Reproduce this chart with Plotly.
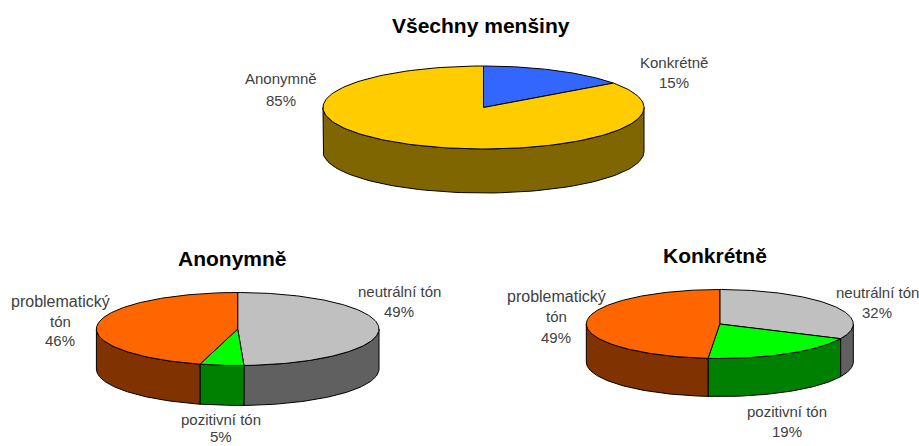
import numpy as np
import plotly.graph_objects as go

# --- data ---
all_labels = ["Konkrétně", "Anonymně"]
all_values = [15, 85]
anon_labels = ["neutrální tón", "pozitivní tón", "problematický tón"]
anon_values = [49.3, 5.0, 45.7]
conc_labels = ["neutrální tón", "pozitivní tón", "problematický tón"]
conc_values = [32, 19.4, 48.6]
titles = ["Všechny menšiny", "Anonymně", "Konkrétně"]

TOP = {"Konkrétně": "#3366FF", "Anonymně": "#FFCC00", "neutrální tón": "#C0C0C0",
       "pozitivní tón": "#00FF00", "problematický tón": "#FF6600"}
SIDE = {"Konkrétně": "#1A3380", "Anonymně": "#806600", "neutrální tón": "#606060",
        "pozitivní tón": "#008000", "problematický tón": "#803300"}


def pt(cx, cy, rx, ry, deg):
    a = np.radians(deg)
    return cx + rx * np.sin(a), cy - ry * np.cos(a)


def pie3d(fig, labels, values, cx, cy, rx, ry, depth):
    total = sum(values)
    start = 0.0
    slices = []
    for lab, v in zip(labels, values):
        end = start + 360.0 * v / total
        slices.append((lab, start, end))
        start = end
    # side walls (front half only, 90..270 deg clockwise from the top)
    for lab, a0, a1 in slices:
        lo, hi = max(a0, 90), min(a1, 270)
        if hi <= lo:
            continue
        t = np.linspace(lo, hi, 80)
        x, y = pt(cx, cy, rx, ry, t)
        xs = list(x) + list(x[::-1]) + [x[0]]
        ys = list(y) + list((y + depth)[::-1]) + [y[0]]
        fig.add_trace(go.Scatter(x=xs, y=ys, mode="lines", fill="toself", fillcolor=SIDE[lab],
                                 line=dict(color="black", width=1), name=lab, showlegend=False))
    # top faces
    for lab, a0, a1 in slices:
        t = np.linspace(a0, a1, 160)
        x, y = pt(cx, cy, rx, ry, t)
        xs = [cx] + list(x) + [cx]
        ys = [cy] + list(y) + [cy]
        fig.add_trace(go.Scatter(x=xs, y=ys, mode="lines", fill="toself", fillcolor=TOP[lab],
                                 line=dict(color="black", width=1), name=lab, showlegend=False))


fig = go.Figure()
pie3d(fig, all_labels, all_values, 483.5, 107.5, 160.5, 41.5, 44)
pie3d(fig, anon_labels, anon_values, 237.7, 329, 141.3, 36.5, 40)
pie3d(fig, conc_labels, conc_values, 719.8, 324, 133.5, 34.5, 38)


def text(lines, x, ys, size=15, bold=False, color="#404040"):
    for line, y in zip(lines, ys):
        fig.add_annotation(x=x, y=y, xref="x", yref="y", text=f"<b>{line}</b>" if bold else line,
                           showarrow=False, xanchor="center", yanchor="middle",
                           font=dict(family="Liberation Sans",
                                     size=16 if line == "problematický" else size, color=color))


def pct(v):
    return f"{v:.0f}%"


text([titles[0]], 481, [25], 21, True, "black")
text([titles[1]], 232, [258], 21, True, "black")
text([titles[2]], 715, [255], 21, True, "black")
text([all_labels[1], pct(all_values[1])], 281, [78, 100])
text([all_labels[0], pct(all_values[0])], 674, [62, 82])
text(["problematický", "tón", pct(anon_values[2])], 60, [301, 321, 340])
text([anon_labels[0], pct(anon_values[0])], 399, [291, 311])
text([anon_labels[1], pct(anon_values[1])], 221, [419, 436.5])
text(["problematický", "tón", pct(conc_values[2])], 556, [296, 316, 337])
text([conc_labels[0], pct(conc_values[0])], 877, [292, 312])
text([conc_labels[1], pct(conc_values[1])], 787, [411, 431])

fig.update_layout(
    width=919, height=446, margin=dict(l=0, r=0, t=0, b=0),
    paper_bgcolor="white", plot_bgcolor="white", showlegend=False,
    xaxis=dict(range=[0, 919], visible=False, fixedrange=True),
    yaxis=dict(range=[446, 0], visible=False, fixedrange=True),
)
fig.write_html("out.html", config={"displayModeBar": False},
               post_script="document.body.style.margin='0';document.body.style.overflow='hidden';")
